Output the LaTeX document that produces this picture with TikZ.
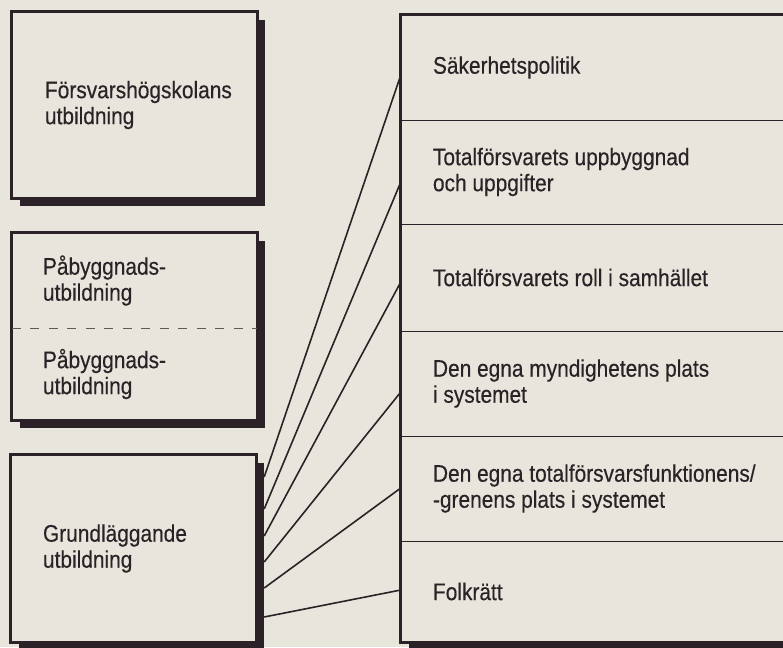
\documentclass[tikz,border=0pt]{standalone}
\usepackage{fontspec}
\setmainfont[FakeStretch=0.87,FakeBold=0.35]{Liberation Sans}
\usetikzlibrary{calc}
\definecolor{paper}{RGB}{232,230,220}
\definecolor{ink}{RGB}{42,34,38}
\begin{document}
\begin{tikzpicture}[x=1pt,y=-1pt,
  frame/.style={draw=ink, line width=3pt, fill=paper},
  area/.style={inner sep=0pt, minimum width=245pt},
  row/.style={inner sep=0pt, minimum width=389pt},
  txt/.style={font=\fontsize{24}{26}\selectfont, text=ink, align=left, inner sep=0pt, anchor=west},
  sep/.style={draw=ink, line width=1.2pt},
  dashsep/.style={draw=ink!75, line width=1pt, dash pattern=on 9pt off 9.5pt},
  conn/.style={draw=ink, line width=1.6pt},
  shade/.style={fill=ink}]

\fill[paper] (0,0) rectangle (783,647);
\useasboundingbox (0,0) rectangle (783,647);

% ---- left boxes (areas)
\node[area, minimum height=186pt] (fhs) at (134.5,105) {};
\node[area, minimum height=95pt] (pa1) at (134.5,280.5) {};
\node[area, minimum height=92pt] (pa2) at (134.5,374) {};
\node[area, minimum height=187pt] (g) at (133.5,548.5) {};

% ---- right box rows
\node[row, minimum height=105pt] (r1) at (595.5,67.5) {};
\node[row, minimum height=104pt] (r2) at (595.5,172) {};
\node[row, minimum height=107pt] (r3) at (595.5,277.5) {};
\node[row, minimum height=105pt] (r4) at (595.5,383.5) {};
\node[row, minimum height=105pt] (r5) at (595.5,488.5) {};
\node[row, minimum height=101pt] (r6) at (595.5,591.5) {};

% ---- shadows
\fill[shade] ($(fhs.north west)+(8,8)$) rectangle ($(fhs.south east)+(8,8)$);
\fill[shade] ($(pa1.north west)+(8,8)$) rectangle ($(pa2.south east)+(8,8)$);
\fill[shade] ($(g.north west)+(8,8)$) rectangle ($(g.south east)+(8,8)$);
\fill[shade] ($(r1.north west)+(8,8)$) rectangle ($(r6.south east)+(8,8)$);

% ---- frames
\draw[frame] (fhs.north west) rectangle (fhs.south east);
\draw[frame] (pa1.north west) rectangle (pa2.south east);
\draw[frame] (g.north west) rectangle (g.south east);
\draw[frame] (r1.north west) rectangle (r6.south east);

% ---- separators
\draw[dashsep] (pa1.south west) -- (pa1.south east);
\draw[sep] (r1.south west) -- (r1.south east);
\draw[sep] (r2.south west) -- (r2.south east);
\draw[sep] (r3.south west) -- (r3.south east);
\draw[sep] (r4.south west) -- (r4.south east);
\draw[sep] (r5.south west) -- (r5.south east);

% ---- texts
\node[txt] (fhsT) at ($(fhs.west)+(33,0)$) {Försvarshögskolans\\utbildning};
\node[txt] (pa1T) at ($(pa1.west)+(31,0)$) {Påbyggnads-\\utbildning};
\node[txt] (pa2T) at ($(pa2.west)+(31,0)$) {Påbyggnads-\\utbildning};
\node[txt] (gT) at ($(g.west)+(32,0)$) {Grundläggande\\utbildning};

\node[txt] (r1T) at ($(r1.west)+(32,0)$) {Säkerhetspolitik};
\node[txt] (r2T) at ($(r2.west)+(32,0)$) {Totalförsvarets uppbyggnad\\och uppgifter};
\node[txt] (r3T) at ($(r3.west)+(32,0)$) {Totalförsvarets roll i samhället};
\node[txt] (r4T) at ($(r4.west)+(32,0)$) {Den egna myndighetens plats\\i systemet};
\node[txt] (r5T) at ($(r5.west)+(32,0)$) {Den egna totalförsvarsfunktionens/\\-grenens plats i systemet};
\node[txt] (r6T) at ($(r6.west)+(32,0)$) {Folkrätt};

% ---- connectors
\draw[conn] ($(g.east)+(8,-71.5)$) -- ($(r1.west)+(0,7.5)$);
\draw[conn] ($(g.east)+(8,-39.5)$) -- ($(r2.west)+(0,10)$);
\draw[conn] ($(g.east)+(8,-12.5)$) -- ($(r3.west)+(0,4.5)$);
\draw[conn] ($(g.east)+(8,13.5)$) -- ($(r4.west)+(0,8.5)$);
\draw[conn] ($(g.east)+(8,39.5)$) -- ($(r5.west)+(0,-0.5)$);
\draw[conn] ($(g.east)+(8,68.5)$) -- ($(r6.west)+(0,-1.5)$);
\end{tikzpicture}
\end{document}
